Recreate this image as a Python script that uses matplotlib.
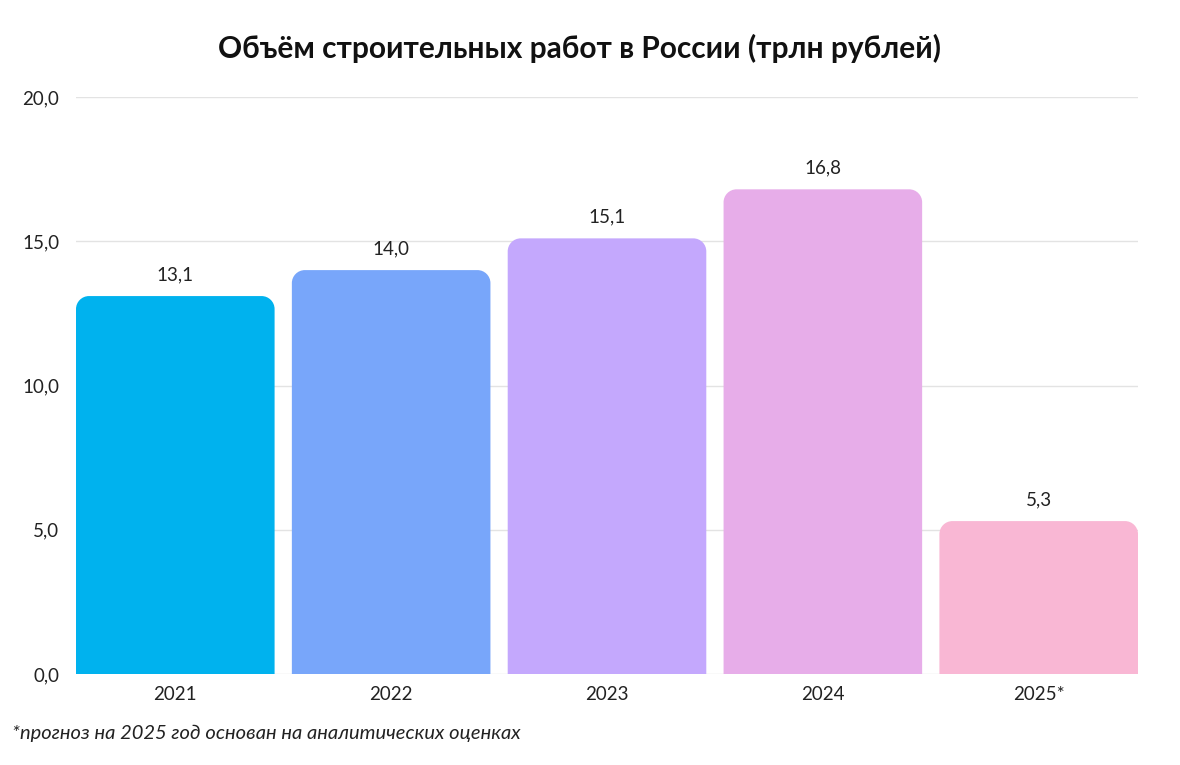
import matplotlib
matplotlib.use("Agg")
import matplotlib.pyplot as plt
from matplotlib.path import Path
from matplotlib.patches import PathPatch

categories = ["2021", "2022", "2023", "2024", "2025*"]
values = [13.1, 14.0, 15.1, 16.8, 5.3]
value_labels = ["13,1", "14,0", "15,1", "16,8", "5,3"]
yticks = [0, 5, 10, 15, 20]
ytick_labels = ["0,0", "5,0", "10,0", "15,0", "20,0"]
colors = ["#00B2EE", "#78A6FA", "#C4A8FD", "#E7ADE9", "#F9B7D4"]
title = "Объём строительных работ в России (трлн рублей)"
footnote = "*прогноз на 2025 год основан на аналитических оценках"

plt.rcParams['font.family'] = ['Lato', 'Open Sans', 'DejaVu Sans']

W, H = 1180, 765
fig = plt.figure(figsize=(W / 100, H / 100), dpi=100)
left, right, bottom, top = 76, 1138, 674, 97
ax = fig.add_axes([left / W, 1 - bottom / H, (right - left) / W, (bottom - top) / H])

x = list(range(len(categories)))
bw = 0.92
bars = ax.bar(x, values, width=bw, color=colors, zorder=2)
ax.set_xlim(-bw / 2, len(categories) - 1 + bw / 2)
ax.set_ylim(0, 20)

# rounded top corners
px_per_x = (right - left) / (ax.get_xlim()[1] - ax.get_xlim()[0])
px_per_y = (bottom - top) / 20
r_px = 13
rx, ry = r_px / px_per_x, r_px / px_per_y
k = 0.5523
for i, b in enumerate(bars):
    x0, w, h = b.get_x(), b.get_width(), b.get_height()
    x1 = x0 + w
    verts = [(x0, 0), (x0, h - ry),
             (x0, h - ry + k * ry), (x0 + rx - k * rx, h), (x0 + rx, h),
             (x1 - rx, h),
             (x1 - rx + k * rx, h), (x1, h - ry + k * ry), (x1, h - ry),
             (x1, 0), (x0, 0)]
    codes = [Path.MOVETO, Path.LINETO,
             Path.CURVE4, Path.CURVE4, Path.CURVE4,
             Path.LINETO,
             Path.CURVE4, Path.CURVE4, Path.CURVE4,
             Path.LINETO, Path.CLOSEPOLY]
    pp = PathPatch(Path(verts, codes), facecolor=b.get_facecolor(), edgecolor='none', zorder=2)
    b.set_visible(False)
    ax.add_patch(pp)
    ax.annotate(value_labels[i], (x0 + w / 2, h), xytext=(0, 9),
                textcoords='offset points', ha='center', va='bottom',
                fontsize=13.5, color='#222222')

ax.set_yticks(yticks)
ax.set_yticklabels(ytick_labels)
ax.set_xticks(x)
ax.set_xticklabels(categories)
ax.tick_params(axis='both', length=0, labelsize=13.5, colors='#222222')
ax.tick_params(axis='y', pad=12)
ax.tick_params(axis='x', pad=9)
ax.grid(axis='y', color='#E3E3E3', linewidth=1, zorder=0)
for s in ax.spines.values():
    s.set_visible(False)

fig.text(580 / W, 1 - 48 / H, title, ha='center', va='center', fontsize=21.5,
         fontweight='bold', color='#111111')
fig.text(12 / W, 1 - 733 / H, footnote, ha='left', va='center', fontsize=14.5,
         style='italic', color='#222222')

fig.savefig("out.png", dpi=100, facecolor='white')
